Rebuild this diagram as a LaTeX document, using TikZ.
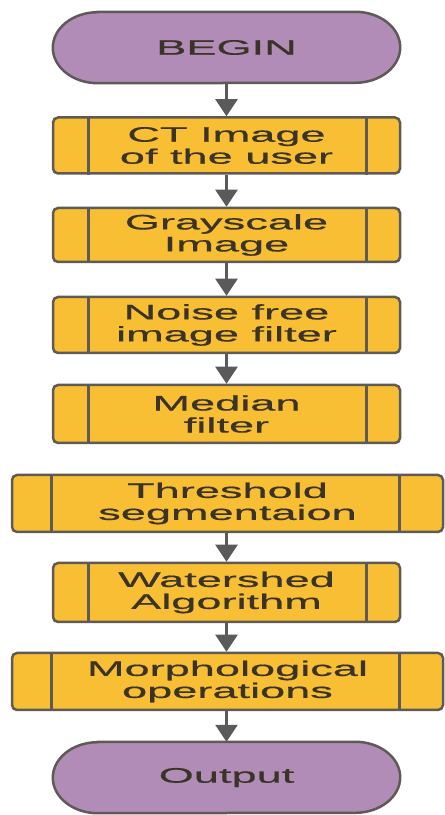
\documentclass[tikz,border=0pt]{standalone}
\usepackage{fontspec}
\setmainfont[FakeStretch=2.15,FakeBold=0.6]{Liberation Sans}
\usetikzlibrary{arrows.meta,backgrounds}
\definecolor{yel}{HTML}{F8BE34}
\definecolor{lil}{HTML}{B08CB6}
\definecolor{edge}{HTML}{5F5A55}
\definecolor{ink}{HTML}{3A3428}
\definecolor{arr}{HTML}{5A5A5A}
\begin{document}
\begin{tikzpicture}[x=1pt,y=1pt,
 lbl/.style={font=\fontsize{21}{22}\selectfont, text=ink, align=center, inner sep=0pt},
 proc/.style={lbl, draw=edge, line width=2.5pt, fill=yel, rounded corners=5pt, minimum height=56pt},
 narrow/.style={minimum width=347pt},
 wide/.style={minimum width=431pt},
 term/.style={lbl, minimum width=347pt, minimum height=71pt},
 termline/.style={draw=edge, line width=2.5pt, fill=lil},
 bar/.style={draw=edge, line width=3pt},
 flow/.style={draw=arr, line width=2.5pt, -{Triangle[width=22pt,length=17pt]}}]
\useasboundingbox (0,0) rectangle (445,815);

\node[term] (begin) at (226.5,767.5) {BEGIN};
\node[proc,narrow] (b1) at (226.5,669.5) {CT Image\\of the user};
\node[proc,narrow,minimum height=54pt] (b2) at (226.5,580) {Grayscale\\Image};
\node[proc,narrow] (b3) at (226.5,490) {Noise free\\image filter};
\node[proc,narrow,minimum height=58pt] (b4) at (226.5,401) {Median\\filter};
\node[proc,wide,minimum height=57pt] (b5) at (227.5,311.5) {Threshold\\segmentaion};
\node[proc,narrow,minimum height=59pt] (b6) at (226.5,222.5) {Watershed\\Algorithm};
\node[proc,wide,minimum height=57pt] (b7) at (227.5,133.5) {Morphological\\operations};
\node[term] (out) at (226.5,37.5) {Output};

\begin{scope}[on background layer]
\foreach \t in {begin,out}{
  \path[termline] ([xshift=45pt]\t.north west) -- ([xshift=-45pt]\t.north east)
    arc[start angle=90,end angle=-90,x radius=45pt,y radius=35.5pt]
    -- ([xshift=45pt]\t.south west)
    arc[start angle=270,end angle=90,x radius=45pt,y radius=35.5pt] -- cycle;
}
\end{scope}

\foreach \b in {b1,b2,b3,b4,b6}{
  \draw[bar] ([xshift=37pt]\b.north west) -- ([xshift=37pt]\b.south west);
  \draw[bar] ([xshift=-35pt]\b.north east) -- ([xshift=-35pt]\b.south east);
}
\foreach \b in {b5,b7}{
  \draw[bar] ([xshift=41pt]\b.north west) -- ([xshift=41pt]\b.south west);
  \draw[bar] ([xshift=-45pt]\b.north east) -- ([xshift=-45pt]\b.south east);
}

\draw[flow] (begin) -- (b1);
\draw[flow] (b1) -- (b2);
\draw[flow] (b2) -- (b3);
\draw[flow] (b3) -- (b4);
\draw[flow] (b5.south -| b6.north) -- (b6);
\draw[flow] (b6) -- (b7.north -| b6.south);
\draw[flow] (b7.south -| out.north) -- (out);
\end{tikzpicture}
\end{document}
